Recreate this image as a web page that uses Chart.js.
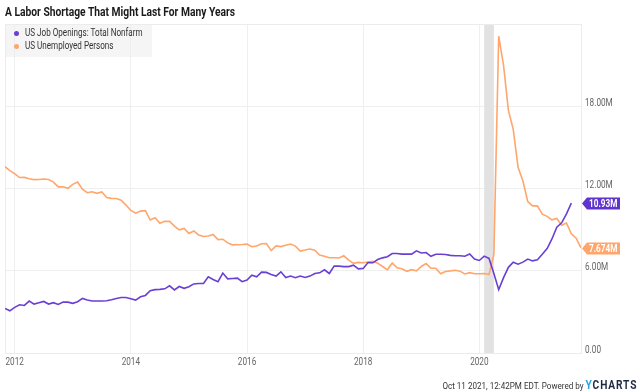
<!DOCTYPE html>
<html>
<head>
<meta charset="utf-8">
<script src="https://cdn.jsdelivr.net/npm/chart.js@4.4.0/dist/chart.umd.min.js"></script>
<style>
  html, body { margin: 0; padding: 0; background: #fff; }
  #wrap { position: relative; width: 640px; height: 392px; overflow: hidden; font-family: Roboto, sans-serif; }
  #chart { position: absolute; left: 0; top: 0; }
  .title { position: absolute; left: 5px; top: 4px; font-weight: bold; font-size: 13px; color: #1a1a1a;
           white-space: nowrap; transform: scaleX(0.79); transform-origin: left top; }
  .legend { position: absolute; left: 5px; top: 24px; width: 147px; height: 33px; background: rgba(236,236,236,0.5); }
  .legend .item { position: absolute; left: 20px; font-size: 10px; color: #333; white-space: nowrap;
                  transform: scaleX(0.81); transform-origin: left center; line-height: 12px; }
  .legend .dot { position: absolute; left: 9px; width: 5px; height: 5px; border-radius: 50%; }
  .footer { position: absolute; right: 3px; top: 378px; font-size: 9.5px; color: #333; white-space: nowrap;
            transform: scaleX(0.85); transform-origin: right center; }
  .footer b { font-size: 12px; letter-spacing: 1px; color: #1e2a44; }
  .footer b span { color: #2aa5e0; }
</style>
</head>
<body>
<div id="wrap">
  <canvas id="chart" width="640" height="392"></canvas>
  <div class="title">A Labor Shortage That Might Last For Many Years</div>
  <div class="legend">
    <span class="dot" style="top:7px;background:#6a3fd3"></span>
    <div class="item" style="top:3px">US Job Openings: Total Nonfarm</div>
    <span class="dot" style="top:20px;background:#ffa66c"></span>
    <div class="item" style="top:16px">US Unemployed Persons</div>
  </div>
  <div class="footer">Oct 11 2021, 12:42PM EDT. Powered by <b><span>Y</span>CHARTS</b></div>
</div>
<script>
// données mensuelles (fin de mois), premier point = oct. 2011, en millions
const startYear = 2011;
const startMonth = 10;

const jobOpenings = [
  3.25, 3.08, 3.33,
  3.52, 3.47, 3.79, 3.57, 3.67, 3.76, 3.57, 3.67, 3.54, 3.71, 3.71, 3.62,
  3.74, 3.98, 3.86, 3.79, 3.79, 3.79, 3.81, 3.88, 3.98, 4.05, 4.05, 3.96,
  3.86, 4.10, 4.20, 4.55, 4.62, 4.64, 4.68, 4.90, 4.60, 4.85, 4.72, 4.83,
  5.04, 5.07, 5.07, 5.56, 5.36, 5.20, 5.83, 5.41, 5.44, 5.46, 5.20, 5.32,
  5.68, 5.56, 5.90, 5.88, 5.73, 5.61, 5.92, 5.51, 5.61, 5.49, 5.61, 5.51,
  5.61, 5.80, 5.85, 6.07, 5.80, 6.34, 6.34, 6.30, 6.30, 6.41, 6.14, 6.17,
  6.60, 6.58, 6.82, 6.94, 7.02, 7.26, 7.26, 7.21, 7.21, 7.21, 7.45, 7.30,
  7.33, 7.05, 7.20, 7.20, 7.18, 7.12, 7.09, 7.09, 7.06, 7.22, 6.85, 6.75,
  7.07, 6.90, 5.80, 4.62, 5.50, 6.25, 6.62, 6.48, 6.63, 6.85, 6.72, 6.80,
  7.20, 7.62, 8.32, 9.18, 9.50, 10.15, 10.93
];

const unemployed = [
  13.59, 13.30, 13.09,
  12.80, 12.81, 12.71, 12.65, 12.66, 12.69, 12.66, 12.47, 12.12, 12.12, 12.01, 12.30,
  12.47, 11.95, 11.69, 11.76, 11.65, 11.75, 11.34, 11.28, 11.27, 11.14, 10.79, 10.40,
  10.20, 10.35, 10.38, 9.70, 9.86, 9.46, 9.61, 9.60, 9.26, 8.99, 9.09, 8.72,
  8.90, 8.61, 8.50, 8.53, 8.65, 8.27, 8.30, 8.03, 7.89, 7.90, 7.91, 7.94,
  7.75, 7.81, 7.97, 7.99, 7.47, 7.81, 7.76, 7.86, 7.95, 7.80, 7.44, 7.51,
  7.59, 7.50, 7.15, 7.06, 6.95, 6.95, 6.93, 7.09, 6.77, 6.54, 6.61, 6.58,
  6.64, 6.69, 6.55, 6.31, 6.07, 6.56, 6.22, 6.15, 5.96, 6.08, 5.99, 6.31,
  6.52, 6.18, 6.18, 5.78, 5.95, 5.99, 6.04, 5.97, 5.77, 5.86, 5.78, 5.78,
  5.80, 5.72, 7.19, 23.11, 20.98, 17.70, 16.31, 13.54, 12.54, 11.05, 10.73, 10.74,
  10.13, 9.97, 9.71, 9.81, 9.32, 9.48, 8.70, 8.38, 7.674
];

const yearTicks = [2012, 2014, 2016, 2018, 2020];
const valueTicks = [0, 6, 12, 18, 24];
const recessionStart = 2020 + 1 / 12;
const recessionEnd = 2020 + 3 / 12;

const purple = "#6a3fd3";
const orange = "#ffa66c";
const squeeze = 0.82; // police étroite simulée

function toPoints(values) {
  return values.map((v, i) => ({ x: startYear + (startMonth + i) / 12, y: v }));
}

function formatValue(v) {
  if (v === 0) return "0.00";
  if (v === 24) return "";
  return v.toFixed(2) + "M";
}

function drawSqueezed(ctx, text, x, y, align) {
  ctx.save();
  ctx.translate(x, y);
  ctx.scale(squeeze, 1);
  ctx.textAlign = align;
  ctx.textBaseline = "middle";
  ctx.fillText(text, 0, 0);
  ctx.restore();
}

// bande grise (récession) + cadre de la zone de tracé
const backdrop = {
  id: "backdrop",
  beforeDatasetsDraw(chart) {
    const { ctx, chartArea, scales } = chart;
    const x1 = scales.x.getPixelForValue(recessionStart);
    const x2 = scales.x.getPixelForValue(recessionEnd);
    ctx.save();
    ctx.fillStyle = "#e2e2e2";
    ctx.fillRect(x1, chartArea.top, x2 - x1, chartArea.bottom - chartArea.top);
    ctx.strokeStyle = "#ececec";
    ctx.lineWidth = 1;
    ctx.strokeRect(chartArea.left + 0.5, chartArea.top + 0.5, chartArea.right - chartArea.left, chartArea.bottom - chartArea.top);
    ctx.restore();
  },
};

// libellés des axes, dessinés en étroit
const axisLabels = {
  id: "axisLabels",
  afterDraw(chart) {
    const { ctx, chartArea, scales } = chart;
    ctx.save();
    ctx.font = "10px Roboto, sans-serif";
    ctx.fillStyle = "#666";
    scales.x.ticks.forEach((t) => {
      drawSqueezed(ctx, String(t.value), scales.x.getPixelForValue(t.value), chartArea.bottom + 9, "center");
    });
    scales.y.ticks.forEach((t) => {
      drawSqueezed(ctx, formatValue(t.value), chartArea.right + 4, scales.y.getPixelForValue(t.value) - 3, "left");
    });
    ctx.restore();
  },
};

// étiquettes de dernière valeur à droite
const endTags = {
  id: "endTags",
  afterDraw(chart) {
    const { ctx, chartArea, scales } = chart;
    chart.data.datasets.forEach((ds) => {
      const last = ds.data[ds.data.length - 1].y;
      const y = Math.round(scales.y.getPixelForValue(last)) + 0.5;
      const x = chartArea.right + 1;
      const h = 12, w = 33, tip = 5;
      ctx.save();
      ctx.beginPath();
      ctx.moveTo(x, y);
      ctx.lineTo(x + tip, y - h / 2);
      ctx.lineTo(x + tip + w, y - h / 2);
      ctx.lineTo(x + tip + w, y + h / 2);
      ctx.lineTo(x + tip, y + h / 2);
      ctx.closePath();
      ctx.fillStyle = ds.tagColor;
      ctx.fill();
      ctx.fillStyle = "#fff";
      ctx.font = "bold 10px Roboto, sans-serif";
      drawSqueezed(ctx, last.toPrecision(4) + "M", x + tip + 2, y + 0.5, "left");
      ctx.restore();
    });
  },
};

new Chart(document.getElementById("chart"), {
  type: "line",
  data: {
    datasets: [
      {
        label: "US Job Openings: Total Nonfarm",
        data: toPoints(jobOpenings),
        borderColor: purple,
        tagColor: "#5f33cc",
        borderWidth: 1.6,
        pointRadius: 0,
        tension: 0,
      },
      {
        label: "US Unemployed Persons",
        data: toPoints(unemployed),
        borderColor: orange,
        tagColor: "#ffa66c",
        borderWidth: 1.6,
        pointRadius: 0,
        tension: 0,
      },
    ],
  },
  options: {
    responsive: false,
    animation: false,
    layout: { padding: { top: 24, left: 5, right: 0, bottom: 0 } },
    plugins: { legend: { display: false }, title: { display: false }, tooltip: { enabled: false } },
    scales: {
      x: {
        type: "linear",
        min: startYear + startMonth / 12,
        max: startYear + (startMonth + unemployed.length - 1) / 12,
        afterBuildTicks: (scale) => { scale.ticks = yearTicks.map((v) => ({ value: v })); },
        afterFit: (scale) => { scale.height = 39; },
        grid: { color: "#efefef", drawTicks: false },
        border: { display: false },
        ticks: { display: false },
      },
      y: {
        position: "right",
        min: 0,
        max: 24,
        afterBuildTicks: (scale) => { scale.ticks = valueTicks.map((v) => ({ value: v })); },
        afterFit: (scale) => { scale.width = 59; },
        grid: { color: "#efefef", drawTicks: false },
        border: { display: false },
        ticks: { display: false },
      },
    },
  },
  plugins: [backdrop, axisLabels, endTags],
});
</script>
</body>
</html>
